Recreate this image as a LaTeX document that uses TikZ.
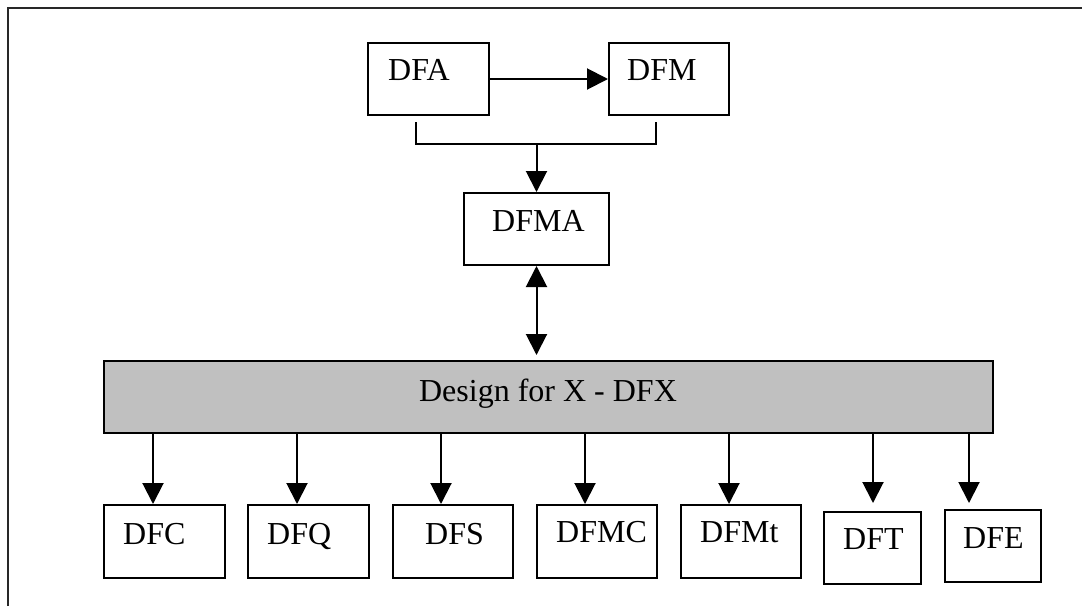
\documentclass[tikz,border=0pt]{standalone}
\usepackage{fontspec}
\setmainfont{Liberation Serif}
\usetikzlibrary{arrows.meta,calc}

\tikzset{
  box/.style={draw=black, line width=2pt, fill=white, inner sep=0pt, anchor=north west},
  barbox/.style={draw=black, line width=2pt, fill={rgb,255:red,192;green,192;blue,192}, inner sep=0pt, anchor=north west},
  lbl/.style={inner sep=0pt, anchor=base west, font=\fontsize{32}{38}\selectfont},
  conn/.style={line width=2pt, draw=black},
  arr/.style={conn, -{Triangle[length=21pt,width=21pt]}},
  darr/.style={conn, {Triangle[length=21pt,width=21pt]}-{Triangle[length=21pt,width=21pt]}},
}

\begin{document}
\begin{tikzpicture}[x=1pt, y=-1pt]
  \useasboundingbox (0,0) rectangle (1082,606);

  % page frame
  \coordinate (frameTL) at (8,8);
  \draw[line width=2.5pt, draw={rgb,255:red,40;green,40;blue,40}] (8,606) -- (frameTL) -- (1082,8);

  % top row
  \node[box, minimum width=121pt, minimum height=72pt] (dfa) at (367,42) {};
  \node[box, minimum width=120pt, minimum height=72pt] (dfm) at (608,42) {};
  \node[lbl] (dfaT) at (388,80) {DFA};
  \node[lbl] (dfmT) at (627,80) {DFM};

  % DFMA
  \node[box, minimum width=145pt, minimum height=72pt] (dfma) at (463,192) {};
  \node[lbl] (dfmaT) at (492,231) {DFMA};

  % Design for X bar
  \node[barbox, minimum width=889pt, minimum height=72pt] (bar) at (103,360) {};
  \node[inner sep=0pt, anchor=base, font=\fontsize{32}{38}\selectfont] (barT) at (548,401) {Design for X - DFX};

  % bottom row
  \node[box, minimum width=121pt, minimum height=73pt] (dfc)  at (103,504) {};
  \node[box, minimum width=121pt, minimum height=73pt] (dfq)  at (247,504) {};
  \node[box, minimum width=120pt, minimum height=73pt] (dfs)  at (392,504) {};
  \node[box, minimum width=120pt, minimum height=73pt] (dfmc) at (536,504) {};
  \node[box, minimum width=120pt, minimum height=73pt] (dfmt) at (680,504) {};
  \node[box, minimum width=97pt,  minimum height=72pt] (dft)  at (823,511) {};
  \node[box, minimum width=96pt,  minimum height=72pt] (dfe)  at (944,509) {};

  \node[lbl] at (123,544) {DFC};
  \node[lbl] at (267,544) {DFQ};
  \node[lbl] at (425,544) {DFS};
  \node[lbl] at (556,542) {DFMC};
  \node[lbl] at (700,542) {DFMt};
  \node[lbl] at (843,549) {DFT};
  \node[lbl] at (963,548) {DFE};

  % DFA -> DFM
  \draw[arr] (dfa.east) -- (dfm.west);

  % bracket joining DFA and DFM, feeding DFMA
  \coordinate (brL) at ([xshift=49pt]dfa.south west);
  \coordinate (brR) at ([xshift=48pt]dfm.south west);
  \coordinate (brM) at (dfma.north |- 0,144);
  \draw[conn] ($(brL)+(0,6)$) |- (brM) -| ($(brR)+(0,6)$);
  \draw[arr] (brM) -- (dfma.north);

  % DFMA <-> DFX
  \draw[darr, shorten >=5pt] (dfma.south) -- (dfma.south |- bar.north);

  % DFX -> each method
  \draw[arr] ([xshift=-11.5pt]dfc.north |- bar.south)  -- ([xshift=-11.5pt]dfc.north);
  \draw[arr] ([xshift=-11.5pt]dfq.north |- bar.south)  -- ([xshift=-11.5pt]dfq.north);
  \draw[arr] ([xshift=-12pt]dfs.north |- bar.south)    -- ([xshift=-12pt]dfs.north);
  \draw[arr] ([xshift=-12pt]dfmc.north |- bar.south)   -- ([xshift=-12pt]dfmc.north);
  \draw[arr] ([xshift=-12pt]dfmt.north |- bar.south)   -- ([xshift=-12pt]dfmt.north);
  \draw[arr, shorten >=8pt] ([xshift=0.5pt]dft.north |- bar.south) -- ([xshift=0.5pt]dft.north);
  \draw[arr, shorten >=6pt] ([xshift=-24pt]dfe.north |- bar.south) -- ([xshift=-24pt]dfe.north);
\end{tikzpicture}
\end{document}
